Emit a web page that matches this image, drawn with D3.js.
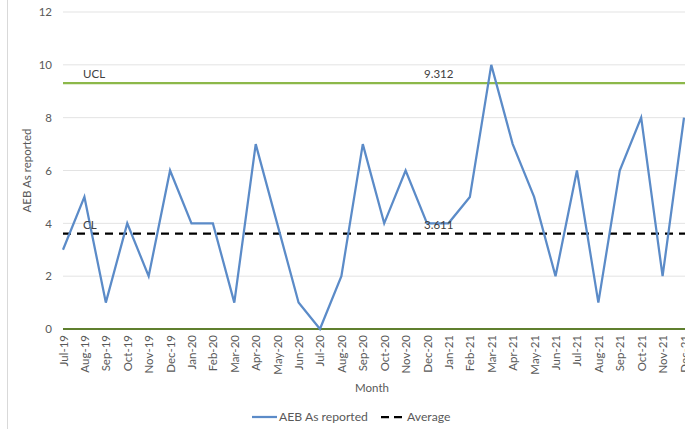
<!DOCTYPE html>
<html>
<head>
<meta charset="utf-8">
<script src="https://cdn.jsdelivr.net/npm/d3@7"></script>
<style>
  html, body { margin: 0; padding: 0; background: #fff; }
  svg { display: block; font-family: Lato, "Open Sans", sans-serif; }
</style>
</head>
<body>
<svg id="chart" width="685" height="429"></svg>
<script>
// Monthly AEB counts with control limits
const months = ["Jul-19","Aug-19","Sep-19","Oct-19","Nov-19","Dec-19","Jan-20","Feb-20","Mar-20","Apr-20",
  "May-20","Jun-20","Jul-20","Aug-20","Sep-20","Oct-20","Nov-20","Dec-20","Jan-21","Feb-21",
  "Mar-21","Apr-21","May-21","Jun-21","Jul-21","Aug-21","Sep-21","Oct-21","Nov-21","Dec-21"];
const aeb = [3,5,1,4,2,6,4,4,1,7,4,1,0,2,7,4,6,4,4,5,10,7,5,2,6,1,6,8,2,8];
const average = 3.611;
const ucl = 9.312;
const lcl = 0;
const yTicks = [0,2,4,6,8,10,12];

const svg = d3.select("#chart");
const plotLeft = 63, plotRight = 684, plotTop = 12, plotBottom = 329;

const x = d3.scalePoint().domain(months).range([plotLeft, plotRight]);
const y = d3.scaleLinear().domain([0, 12]).range([plotBottom, plotTop]);

// outer chart border (left edge)
svg.append("line").attr("x1", 7.5).attr("x2", 7.5).attr("y1", 0).attr("y2", 429)
  .attr("stroke", "#d9d9d9").attr("stroke-width", 1);

// gridlines
svg.append("g").selectAll("line").data(yTicks).join("line")
  .attr("x1", plotLeft).attr("x2", plotRight + 1)
  .attr("y1", d => y(d)).attr("y2", d => y(d))
  .attr("stroke", "#e3e3e3").attr("stroke-width", 1);

// y axis labels
const yAxis = d3.axisLeft(y).tickValues(yTicks).tickSize(0).tickPadding(0);
const gy = svg.append("g").attr("transform", `translate(${plotLeft - 11},0)`).call(yAxis);
gy.select(".domain").remove();
gy.selectAll("text").attr("fill", "#595959").attr("font-size", 11.5).attr("font-family", "Lato, sans-serif");

// x axis labels (rotated)
const xAxis = d3.axisBottom(x).tickSize(0).tickPadding(0);
const gx = svg.append("g").attr("transform", `translate(0,${plotBottom + 6})`).call(xAxis);
gx.select(".domain").remove();
gx.selectAll("text")
  .attr("fill", "#595959").attr("font-size", 11.5).attr("font-family", "Lato, sans-serif")
  .attr("transform", "rotate(-90)")
  .attr("text-anchor", "end").attr("dy", "0.35em").attr("x", 0).attr("y", 0);

// LCL line at zero
svg.append("line").attr("x1", plotLeft).attr("x2", plotRight + 1)
  .attr("y1", y(lcl)).attr("y2", y(lcl))
  .attr("stroke", "#5f7f2e").attr("stroke-width", 2);

// UCL line
svg.append("line").attr("x1", plotLeft).attr("x2", plotRight + 1)
  .attr("y1", y(ucl)).attr("y2", y(ucl))
  .attr("stroke", "#8cb84a").attr("stroke-width", 2.25);

// average line
svg.append("line").attr("x1", plotLeft).attr("x2", plotRight + 1)
  .attr("y1", y(average)).attr("y2", y(average))
  .attr("stroke", "#000").attr("stroke-width", 2.25).attr("stroke-dasharray", "8,6");

// series line
const line = d3.line().x((d, i) => x(months[i])).y(d => y(d));
svg.append("path").datum(aeb).attr("d", line)
  .attr("fill", "none").attr("stroke", "#5b8bc8").attr("stroke-width", 2.25)
  .attr("stroke-linejoin", "miter");

// limit labels
const lab = (t, xx, yy) => svg.append("text").attr("x", xx).attr("y", yy).text(t)
  .attr("fill", "#404040").attr("font-size", 11.5).attr("font-family", "Lato, sans-serif");
lab("UCL", 83, y(ucl) - 5);
lab(d3.format(".3f")(ucl), 424, y(ucl) - 5);
lab("CL", 83, y(average) - 5);
lab(d3.format(".3f")(average), 424, y(average) - 5);

// axis titles
svg.append("text").attr("x", 372).attr("y", 392).attr("text-anchor", "middle")
  .attr("fill", "#595959").attr("font-size", 11.5).text("Month");
svg.append("text").attr("transform", `translate(31,${(plotTop + plotBottom) / 2}) rotate(-90)`)
  .attr("text-anchor", "middle").attr("fill", "#595959").attr("font-size", 11.5).text("AEB As reported");

// legend
const lg = svg.append("g");
lg.append("line").attr("x1", 252).attr("x2", 277).attr("y1", 417).attr("y2", 417)
  .attr("stroke", "#5b8bc8").attr("stroke-width", 2.25);
lg.append("text").attr("x", 279).attr("y", 421).attr("fill", "#595959").attr("font-size", 12.2).text("AEB As reported");
lg.append("line").attr("x1", 381).attr("x2", 405).attr("y1", 417).attr("y2", 417)
  .attr("stroke", "#000").attr("stroke-width", 2.25).attr("stroke-dasharray", "8,5");
lg.append("text").attr("x", 407).attr("y", 421).attr("fill", "#595959").attr("font-size", 12.2).text("Average");
</script>
</body>
</html>
